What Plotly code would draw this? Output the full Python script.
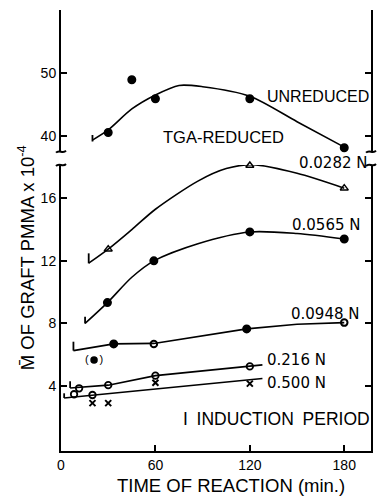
import plotly.graph_objects as go

# ---------------- data ----------------
unred_t = [30, 45, 60, 120, 180]
unred_m = [40.6, 48.9, 45.9, 45.9, 38.2]
unred_fit_t = [20, 30, 45, 60, 75, 90, 120, 150, 180]
unred_fit_m = [39.4, 41.0, 44.3, 46.5, 48.0, 47.8, 46.3, 42.3, 38.3]

n0282_t = [30, 120, 180]
n0282_m = [12.75, 18.1, 16.65]
n0282_fit_t = [17.6, 30, 45, 60, 87, 105, 122, 150, 180]
n0282_fit_m = [11.85, 12.75, 14.0, 15.3, 17.1, 17.9, 18.15, 17.6, 16.65]

n0565_t = [29.5, 59, 120, 180]
n0565_m = [9.33, 12.0, 13.85, 13.4]
n0565_fit_t = [15.3, 29.5, 45, 59, 87, 120, 150, 180]
n0565_fit_m = [8.0, 9.33, 10.95, 12.0, 13.1, 13.85, 13.75, 13.4]

n0948_filled_t = [33.5, 118]
n0948_filled_m = [6.69, 7.65]
n0948_open_t = [59, 180]
n0948_open_m = [6.69, 8.05]
n0948_fit_t = [7.9, 20, 33.5, 59, 90, 118, 150, 180]
n0948_fit_m = [6.26, 6.45, 6.69, 6.72, 7.2, 7.65, 7.95, 8.05]
n0948_paren_t = [21]
n0948_paren_m = [5.66]

n216_t = [8.3, 11.5, 20, 30, 60, 120]
n216_m = [3.47, 3.85, 3.42, 4.05, 4.66, 5.25]
n216_fit_t = [5.8, 30, 60, 120, 128]
n216_fit_m = [3.87, 4.05, 4.66, 5.25, 5.35]

n500_t = [20, 30, 60, 120]
n500_m = [2.9, 2.9, 4.2, 4.15]
n500_fit_t = [2.0, 60, 128]
n500_fit_m = [3.23, 3.8, 4.48]

# induction-period marks (start of each curve)
ind_t = [17.6, 15.3, 7.9, 5.8, 2.0]
ind_top = [12.48, 8.43, 6.83, 4.3, 3.53]
ind_bot = [11.84, 8.0, 6.26, 3.87, 3.23]
ind_unred_t = [20]
ind_unred_top = [40.2]
ind_unred_bot = [39.2]

x_ticks = [0, 60, 120, 180]
y_low_ticks = [4, 8, 12, 16]
y_up_ticks = [40, 50]

# ---------------- layout geometry ----------------
W, H = 377, 499
L, R, T, B = 61, 4, 10, 48
PW, PH = W - L - R, H - T - B
BOT = H - B


def px(x):
    return (x - L) / PW


def py(y):
    return (BOT - y) / PH


BLACK = "black"
FONT = "Liberation Sans"
NFONT = "DejaVu Sans"

fig = go.Figure()


def curve(t, m, yax="y", shape="spline"):
    fig.add_trace(go.Scatter(x=t, y=m, yaxis=yax, mode="lines",
                             line=dict(color=BLACK, width=1.6, shape=shape, smoothing=0.8),
                             showlegend=False, hoverinfo="skip"))


def pts(t, m, symbol, size, yax="y", lw=1.5):
    fig.add_trace(go.Scatter(x=t, y=m, yaxis=yax, mode="markers",
                             marker=dict(symbol=symbol, size=size, color=BLACK,
                                         line=dict(color=BLACK, width=lw)),
                             showlegend=False, cliponaxis=False))


# fitted curves
curve(unred_fit_t, unred_fit_m, "y2")
curve(n0282_fit_t, n0282_fit_m)
curve(n0565_fit_t, n0565_fit_m)
curve(n0948_fit_t, n0948_fit_m, shape="linear")
curve(n216_fit_t, n216_fit_m, shape="linear")
curve(n500_fit_t, n500_fit_m, shape="linear")

# induction marks
for t, a, b in zip(ind_t, ind_top, ind_bot):
    fig.add_trace(go.Scatter(x=[t, t], y=[a, b], mode="lines",
                             line=dict(color=BLACK, width=1.8),
                             showlegend=False, hoverinfo="skip"))
for t, a, b in zip(ind_unred_t, ind_unred_top, ind_unred_bot):
    fig.add_trace(go.Scatter(x=[t, t], y=[a, b], yaxis="y2", mode="lines",
                             line=dict(color=BLACK, width=1.8),
                             showlegend=False, hoverinfo="skip"))

# data points
pts(unred_t, unred_m, "circle", 7.5, "y2")
pts(n0282_t, n0282_m, "triangle-up-open", 7)
pts(n0565_t, n0565_m, "circle", 7.5)
pts(n0948_filled_t, n0948_filled_m, "circle", 7.5)
pts(n0948_open_t, n0948_open_m, "circle-open", 6.5, lw=2)
pts(n0948_paren_t, n0948_paren_m, "circle", 6)
pts(n216_t, n216_m, "circle-open", 6.5, lw=1.8)
pts(n500_t, n500_m, "x-thin-open", 6, lw=2)

# parentheses around the bracketed point
fig.add_trace(go.Scatter(x=n0948_paren_t, y=n0948_paren_m, mode="text",
                         text=["(\u2002\u2002)"], textfont=dict(family=FONT, size=11, color=BLACK),
                         showlegend=False, hoverinfo="skip"))

axis_common = dict(showline=True, linecolor=BLACK, linewidth=2, ticks="inside",
                   ticklen=6, tickwidth=2, tickcolor=BLACK, showgrid=False, zeroline=False,
                   tickfont=dict(family=FONT, size=14, color=BLACK))

fig.update_layout(
    width=W, height=H,
    margin=dict(l=L, r=R, t=T, b=B, pad=0),
    paper_bgcolor="white", plot_bgcolor="white",
    showlegend=False,
    xaxis=dict(range=[0, 197], tickvals=x_ticks, anchor="y", mirror=False, **axis_common),
    xaxis2=dict(range=[0, 197], tickvals=x_ticks, anchor="y2", overlaying="x", side="top",
                showticklabels=False, **axis_common),
    yaxis=dict(domain=[0, py(165)], range=[-0.16, 18.13], tickvals=y_low_ticks,
               anchor="x", mirror="ticks", **axis_common),
    yaxis2=dict(domain=[py(151.7), 1], range=[37.58, 59.86], tickvals=y_up_ticks,
                anchor="x", mirror="ticks", **axis_common),
)

# axis break squiggles
def tilde(cx, cy, w=5, h=2.5):
    p = [(cx - w, cy + h * 0.4), (cx - w * 0.4, cy - h), (cx + w * 0.4, cy + h), (cx + w, cy - h * 0.4)]
    q = [(px(a), py(b)) for a, b in p]
    return "M {0},{1} C {2},{3} {4},{5} {6},{7}".format(*[v for pt in q for v in pt])


for cx in (L, L + PW):
    for cy in (151.7, 165):
        fig.add_shape(type="path", path=tilde(cx, cy), xref="paper", yref="paper",
                      line=dict(color=BLACK, width=2))


def label(text, x, y, anchor="right", size=15, family=NFONT):
    fig.add_annotation(text=text, x=px(x), y=py(y), xref="paper", yref="paper",
                       xanchor=anchor, yanchor="middle", showarrow=False,
                       font=dict(family=family, size=size, color=BLACK))


label("UNREDUCED", 373, 96.7, "right", 16, FONT)
label("TGA-REDUCED", 225, 136.7, "center", 16.5, FONT)
label("0.0282 N", 371, 163)
label("0.0565 N", 364, 225)
label("0.0948 N", 363, 314)
label("0.216 N", 266, 360, "left")
label("0.500 N", 266, 383, "left")
label("I\u2002INDUCTION\u2002PERIOD", 182, 419, "left", 17.5, FONT)

# axis titles
fig.add_annotation(text="TIME OF REACTION (min.)", x=px(232.5), y=py(485), xref="paper", yref="paper",
                   xanchor="center", yanchor="middle", showarrow=False,
                   font=dict(family=FONT, size=18.5, color=BLACK))
fig.add_annotation(text="M\u0304 OF GRAFT PMMA x 10<sup>-4</sup>", x=px(26), y=py(258),
                   xref="paper", yref="paper", xanchor="center", yanchor="middle",
                   textangle=-90, showarrow=False,
                   font=dict(family=FONT, size=18.5, color=BLACK))

fig.write_html("out.html")
